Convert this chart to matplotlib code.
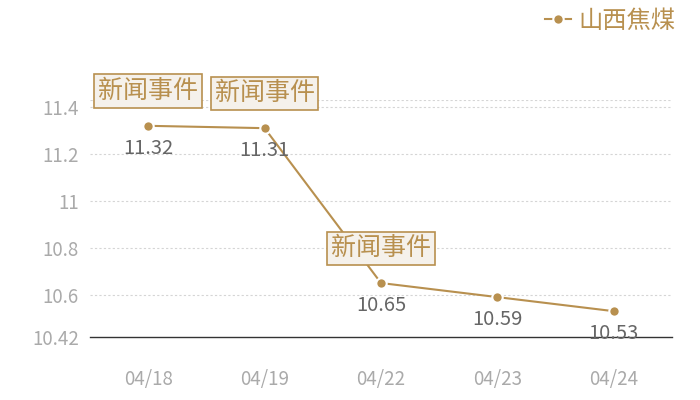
import matplotlib
matplotlib.use("Agg")
import matplotlib.pyplot as plt

plt.rcParams['font.family'] = ['Noto Sans CJK SC', 'DejaVu Sans']

dates = ["04/18", "04/19", "04/22", "04/23", "04/24"]
prices = [11.32, 11.31, 10.65, 10.59, 10.53]
event_idx = [0, 1, 2]
event_text = "新闻事件"
series_name = "山西焦煤"
yticks = [10.42, 10.6, 10.8, 11, 11.2, 11.4]
ytick_labels = ["10.42", "10.6", "10.8", "11", "11.2", "11.4"]

gold = "#b8904f"
x = list(range(len(dates)))

fig = plt.figure(figsize=(7, 4), dpi=100)
ax = fig.add_axes([90/700, 63/400, 582/700, 237/400])

ax.plot(x, prices, color=gold, lw=1.5, marker="o", ms=7.5,
        mfc=gold, mec="white", mew=1.5, label=series_name, zorder=3)

for i, v in enumerate(prices):
    ax.annotate(f"{v:.2f}", (i, v), xytext=(0, -16), textcoords="offset points",
                ha="center", va="center", fontsize=14.5, color="#666666", zorder=5)

for i in event_idx:
    ax.annotate(event_text, (i, prices[i]), xytext=(0, 25), textcoords="offset points",
                ha="center", va="center", fontsize=18, color=gold, zorder=6,
                bbox=dict(boxstyle="square,pad=0.15", fc="#f5f1eb", ec=gold, lw=1.2))

ax.set_xlim(-0.5, len(dates) - 0.5)
ax.set_ylim(10.42, 11.43)
ax.set_xticks(x)
ax.set_xticklabels(dates)
ax.set_yticks(yticks)
ax.set_yticklabels(ytick_labels)
ax.tick_params(length=0, labelsize=13.5, colors="#aaaaaa")
ax.tick_params(axis="x", pad=23)
ax.tick_params(axis="y", pad=8)

for t in yticks[1:]:
    ax.axhline(t, color="#d5d5d5", lw=0.8, ls=(0, (2, 2)), zorder=1)
ax.axhline(11.43, color="#d5d5d5", lw=0.8, ls=(0, (2, 2)), zorder=1)

for s in ["top", "right", "left"]:
    ax.spines[s].set_visible(False)
ax.spines["bottom"].set_color("#333333")
ax.spines["bottom"].set_linewidth(1.0)

leg = fig.legend(loc="upper right", bbox_to_anchor=(0.978, 1.005), frameon=False,
                 fontsize=17.5, handlelength=1.05, handletextpad=0.3, borderaxespad=0)
for t in leg.get_texts():
    t.set_color(gold)

fig.savefig("out.png", dpi=100)
